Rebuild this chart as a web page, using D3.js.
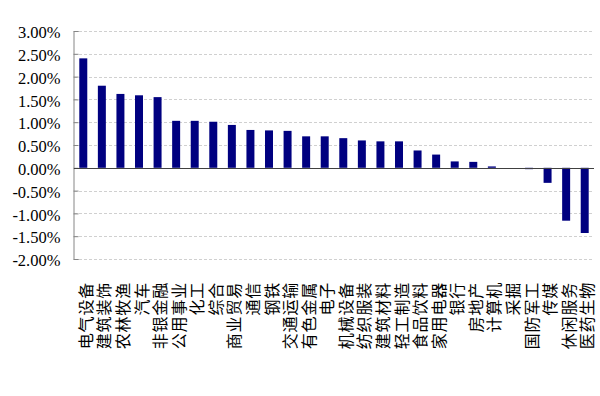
<!DOCTYPE html>
<html><head><meta charset="utf-8">
<script src="https://cdn.jsdelivr.net/npm/d3@7"></script>
<style>body{margin:0;background:#fff}svg{display:block}</style>
</head><body>
<svg id="c" width="600" height="396"></svg>
<script>
const categories = ["电气设备","建筑装饰","农林牧渔","汽车","非银金融","公用事业","化工","综合","商业贸易","通信","钢铁","交通运输","有色金属","电子","机械设备","纺织服装","建筑材料","轻工制造","食品饮料","家用电器","银行","房地产","计算机","采掘","国防军工","传媒","休闲服务","医药生物"];
const values = [2.40,1.80,1.62,1.59,1.55,1.03,1.03,1.01,0.94,0.83,0.82,0.81,0.69,0.69,0.65,0.60,0.58,0.58,0.38,0.29,0.14,0.13,0.03,0.00,-0.03,-0.33,-1.16,-1.43];
const yTicks = [3,2.5,2,1.5,1,0.5,0,-0.5,-1,-1.5,-2];

(function(){
const svg = d3.select("#c");
const L = 74, R = 594, T = 31, B = 259;
const x = d3.scaleBand().domain(categories).range([L, R]).paddingInner(0.57).paddingOuter(0.285);
const y = d3.scaleLinear().domain([-2, 3]).range([B, T]);

// gridlines
svg.append("g").selectAll("line").data(yTicks.filter(d => d !== 0)).join("line")
  .attr("x1", L).attr("x2", R)
  .attr("y1", d => Math.round(y(d)) + 0.5).attr("y2", d => Math.round(y(d)) + 0.5)
  .attr("stroke", "#d0d0d0").attr("stroke-dasharray", "3,2").attr("stroke-width", 1);

// bars
svg.append("g").selectAll("rect").data(values).join("rect")
  .attr("x", (d, i) => x(categories[i]))
  .attr("width", x.bandwidth())
  .attr("y", d => y(Math.max(0, d)))
  .attr("height", d => Math.abs(y(d) - y(0)))
  .attr("fill", "#000080");

// y axis
const yAxis = d3.axisLeft(y).tickValues(yTicks).tickSize(-5).tickPadding(13)
  .tickFormat(d => d.toFixed(2) + "%");
const gy = svg.append("g").attr("transform", `translate(${L - 0.5},0)`).call(yAxis);
gy.select(".domain").attr("stroke", "#868686");
gy.selectAll(".tick line").attr("stroke", "#868686");
gy.selectAll(".tick text").attr("font-family", "'Liberation Serif', 'Times New Roman', serif")
  .attr("font-size", 16.5).attr("fill", "#000").attr("dy", "0.4em");

// zero line
svg.append("line").attr("x1", L).attr("x2", R)
  .attr("y1", Math.round(y(0)) + 0.5).attr("y2", Math.round(y(0)) + 0.5)
  .attr("stroke", "#404040").attr("stroke-width", 1.2);

// category labels
svg.append("g").selectAll("text").data(categories).join("text")
  .attr("transform", d => `translate(${x(d) + x.bandwidth() / 2 + 1.5},282) rotate(-90)`)
  .attr("text-anchor", "end").attr("dominant-baseline", "central")
  .attr("font-family", "'Noto Sans CJK SC', sans-serif").attr("font-size", 16)
  .attr("letter-spacing", 0.8)
  .attr("fill", "#000").text(d => d);
})();
</script>
</body></html>
